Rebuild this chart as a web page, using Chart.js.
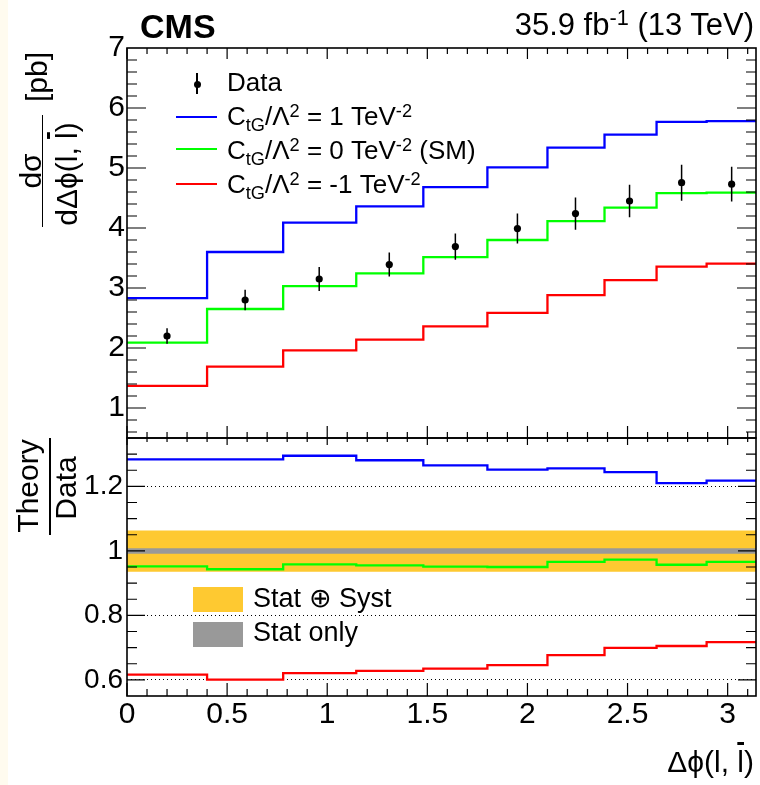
<!DOCTYPE html>
<html>
<head>
<meta charset="utf-8">
<script src="https://cdn.jsdelivr.net/npm/chart.js@4.4.0/dist/chart.umd.min.js"></script>
<style>
body { margin: 0; background: #fff; }
#wrap { position: relative; width: 760px; height: 785px; font-family: "Liberation Sans", Arial, sans-serif; color: #000; overflow: hidden; }
#strip { position: absolute; left: 0; top: 0; width: 8px; height: 785px; background: #fffbef; }
canvas { position: absolute; left: 0; top: 0; }
.t { position: absolute; white-space: nowrap; line-height: 1; z-index: 2; }
.rot { position: absolute; white-space: nowrap; line-height: 1; font-size: 30px; z-index: 2; transform: translate(-50%, -50%) rotate(-90deg); }
.leg { font-size: 26px; }
.sup { font-size: 0.7em; position: relative; top: -0.45em; }
.sub { font-size: 0.7em; position: relative; top: 0.35em; }
.ln { position: absolute; z-index: 2; }
.ov { text-decoration: overline; }
</style>
</head>
<body>
<div id="wrap">
  <div id="strip"></div>
  <canvas id="chart" width="760" height="785"></canvas>

  <div class="t" style="left:140px; top:9px; font-size:34px; font-weight:bold;">CMS</div>
  <div class="t" style="right:6px; top:9px; font-size:31px;">35.9 fb<span class="sup">-1</span> (13 TeV)</div>

  <!-- legend, upper panel -->
  <div class="ln" style="left:196.2px; top:73px; width:1.5px; height:21px; background:#000;"></div>
  <div class="ln" style="left:193.5px; top:80.5px; width:7px; height:7px; border-radius:50%; background:#000;"></div>
  <div class="t leg" style="left:227px; top:69px;">Data</div>
  <div class="ln" style="left:176px; top:116px; width:41px; height:2.3px; background:#0000ff;"></div>
  <div class="t leg" style="left:227px; top:103px;">C<span class="sub">tG</span>/Λ<span class="sup">2</span> = 1 TeV<span class="sup">-2</span></div>
  <div class="ln" style="left:176px; top:148px; width:41px; height:2.3px; background:#00ff00;"></div>
  <div class="t leg" style="left:227px; top:137px;">C<span class="sub">tG</span>/Λ<span class="sup">2</span> = 0 TeV<span class="sup">-2</span> (SM)</div>
  <div class="ln" style="left:176px; top:183px; width:41px; height:2.3px; background:#ff0000;"></div>
  <div class="t leg" style="left:227px; top:171px;">C<span class="sub">tG</span>/Λ<span class="sup">2</span> = -1 TeV<span class="sup">-2</span></div>

  <!-- legend, ratio panel -->
  <div class="ln" style="left:193px; top:587px; width:50px; height:25px; background:#fec931;"></div>
  <div class="t leg" style="left:253px; top:585px; font-size:27px;">Stat ⊕ Syst</div>
  <div class="ln" style="left:193px; top:622px; width:50px; height:25px; background:#999999;"></div>
  <div class="t leg" style="left:253px; top:619px; font-size:27px;">Stat only</div>

  <!-- y title, upper -->
  <div class="rot" style="left:30.5px; top:171px;">dσ</div>
  <div class="ln" style="left:41.8px; top:115px; width:1.5px; height:112px; background:#000;"></div>
  <div class="rot" style="left:66.5px; top:174px;">dΔϕ(l, <span class="ov">l</span>)</div>
  <div class="rot" style="left:37px; top:76.5px;">[pb]</div>

  <!-- y title, ratio -->
  <div class="rot" style="left:28px; top:486px;">Theory</div>
  <div class="ln" style="left:49.3px; top:438px; width:1.5px; height:97px; background:#000;"></div>
  <div class="rot" style="left:66px; top:488px;">Data</div>

  <!-- x title -->
  <div class="t" style="right:6px; top:747px; font-size:30px;">Δϕ(l, <span class="ov">l</span>)</div>
</div>

<script>
// bin edges in delta phi
var binEdges = [0, 0.40, 0.78, 1.145, 1.48, 1.80, 2.10, 2.385, 2.645, 2.895, 3.1416];
var binCenters = [0.20, 0.59, 0.96, 1.31, 1.64, 1.95, 2.24, 2.51, 2.77, 3.02];

// upper panel: d sigma / d delta phi [pb]
var dataXsec = [2.20, 2.80, 3.15, 3.39, 3.69, 3.99, 4.24, 4.45, 4.755, 4.73];
var dataErr  = [0.13, 0.17, 0.20, 0.20, 0.22, 0.25, 0.27, 0.27, 0.30, 0.29];
var xsecPlus  = [2.83, 3.60, 4.09, 4.36, 4.68, 5.01, 5.34, 5.555, 5.77, 5.78];
var xsecSM    = [2.09, 2.65, 3.03, 3.245, 3.515, 3.80, 4.115, 4.34, 4.58, 4.59];
var xsecMinus = [1.37, 1.69, 1.96, 2.14, 2.36, 2.585, 2.88, 3.13, 3.355, 3.405];

// lower panel: theory / data
var ratioPlus  = [1.284, 1.284, 1.295, 1.281, 1.265, 1.252, 1.256, 1.244, 1.210, 1.218];
var ratioSM    = [0.952, 0.943, 0.958, 0.955, 0.951, 0.950, 0.966, 0.973, 0.957, 0.966];
var ratioMinus = [0.616, 0.601, 0.621, 0.628, 0.635, 0.646, 0.677, 0.699, 0.705, 0.717];
var totalUp   = [1.063, 1.063, 1.063, 1.063, 1.063, 1.063, 1.063, 1.063, 1.063, 1.063];
var totalDown = [0.935, 0.935, 0.935, 0.935, 0.935, 0.935, 0.935, 0.935, 0.935, 0.935];
var statUp    = [1.008, 1.008, 1.008, 1.008, 1.008, 1.008, 1.008, 1.008, 1.008, 1.008];
var statDown  = [0.991, 0.991, 0.991, 0.991, 0.991, 0.991, 0.991, 0.991, 0.991, 0.991];

// tick labels
var xTicks = [0, 0.5, 1, 1.5, 2, 2.5, 3];
var xsecTicks = [1, 2, 3, 4, 5, 6, 7];
var ratioTicks = [0.6, 0.8, 1, 1.2];

/* histogram as step points: last value repeated at the last edge */
function stepPoints(vals){
    var pts = [];
    for(var i = 0; i < binEdges.length; i++){
        pts.push({x: binEdges[i], y: vals[Math.min(i, vals.length - 1)]});
    }
    return pts;
}

function stepLine(vals, color, axis){
    return {
        data: stepPoints(vals),
        yAxisID: axis,
        stepped: true,
        borderColor: color,
        borderWidth: 2.3,
        pointRadius: 0,
        fill: false,
        order: 5
    };
}

function band(vals, color, fillTo){
    return {
        data: stepPoints(vals),
        yAxisID: 'yr',
        stepped: true,
        borderWidth: 0,
        borderColor: 'rgba(0,0,0,0)',
        backgroundColor: color,
        pointRadius: 0,
        fill: fillTo,
        order: 10
    };
}

function plainLabel(v){ return String(v); }

/* ROOT style frame with inner ticks + error bars */
var rootFrame = {
    id: 'rootFrame',
    afterDatasetsDraw: function(chart){
        var ctx = chart.ctx;
        var xs = chart.scales.x, ys = chart.scales.y;
        ctx.save();
        ctx.strokeStyle = '#000';
        ctx.lineWidth = 1.5;
        ctx.beginPath();
        for(var i = 0; i < dataXsec.length; i++){
            var px = xs.getPixelForValue(binCenters[i]);
            ctx.moveTo(px, ys.getPixelForValue(dataXsec[i] - dataErr[i]));
            ctx.lineTo(px, ys.getPixelForValue(dataXsec[i] + dataErr[i]));
        }
        ctx.stroke();
        ctx.restore();
    },
    afterDraw: function(chart){
        var ctx = chart.ctx;
        var xs = chart.scales.x, ys = chart.scales.y, yr = chart.scales.yr;
        ctx.save();
        ctx.strokeStyle = '#000';
        ctx.lineWidth = 1.2;
        ctx.beginPath();
        var k, px, py, major;
        for(k = 0; k <= 31; k++){
            px = xs.getPixelForValue(k / 10);
            major = (k % 5 == 0);
            ctx.moveTo(px, ys.top); ctx.lineTo(px, ys.top + (major ? 11 : 6));
            ctx.moveTo(px, ys.bottom); ctx.lineTo(px, ys.bottom - (major ? 12 : 6));
            ctx.moveTo(px, yr.top); ctx.lineTo(px, yr.top + (major ? 7 : 4));
            ctx.moveTo(px, yr.bottom); ctx.lineTo(px, yr.bottom - (major ? 13 : 7));
        }
        for(k = 3; k <= 34; k++){
            py = ys.getPixelForValue(k / 5);
            major = (k % 5 == 0);
            ctx.moveTo(xs.left, py); ctx.lineTo(xs.left + (major ? 19 : 10), py);
            ctx.moveTo(xs.right, py); ctx.lineTo(xs.right - (major ? 19 : 10), py);
        }
        for(k = 12; k <= 26; k++){
            py = yr.getPixelForValue(k / 20);
            major = (k % 4 == 0);
            ctx.moveTo(xs.left, py); ctx.lineTo(xs.left + (major ? 18 : 10), py);
            ctx.moveTo(xs.right, py); ctx.lineTo(xs.right - (major ? 18 : 10), py);
        }
        ctx.stroke();
        ctx.lineWidth = 1.6;
        ctx.strokeRect(xs.left, ys.top, xs.right - xs.left, ys.bottom - ys.top);
        ctx.strokeRect(xs.left, yr.top, xs.right - xs.left, yr.bottom - yr.top);
        ctx.restore();
    }
};

var tickFont = {family: '"Liberation Sans", Arial, sans-serif', size: 30};

var chartCtx = document.getElementById('chart');
var chart = new Chart(chartCtx, {
    type: 'line',
    data: {
        datasets: [
            {
                data: binCenters.map(function(x, i){ return {x: x, y: dataXsec[i]}; }),
                yAxisID: 'y',
                showLine: false,
                pointRadius: 3.6,
                pointBackgroundColor: '#000',
                pointBorderWidth: 0,
                order: 1
            },
            stepLine(xsecPlus, '#0000ff', 'y'),
            stepLine(xsecSM, '#00ff00', 'y'),
            stepLine(xsecMinus, '#ff0000', 'y'),
            stepLine(ratioPlus, '#0000ff', 'yr'),
            stepLine(ratioSM, '#00ff00', 'yr'),
            stepLine(ratioMinus, '#ff0000', 'yr'),
            band(statUp, '#999999', '+1'),
            band(statDown, 'rgba(0,0,0,0)', false),
            band(totalUp, '#fec931', '+1'),
            band(totalDown, 'rgba(0,0,0,0)', false)
        ]
    },
    options: {
        responsive: false,
        animation: false,
        devicePixelRatio: 1,
        layout: {padding: {top: 48, right: 3, left: 0, bottom: 0}},
        plugins: {legend: {display: false}, tooltip: {enabled: false}},
        scales: {
            x: {
                type: 'linear',
                min: 0,
                max: 3.1416,
                grid: {display: false, drawTicks: false},
                border: {display: false},
                afterBuildTicks: function(s){ s.ticks = xTicks.map(function(v){ return {value: v}; }); },
                afterFit: function(s){ s.height = 89; },
                ticks: {font: tickFont, color: '#000', padding: 1, maxRotation: 0, autoSkip: false, callback: plainLabel}
            },
            yr: {
                type: 'linear',
                position: 'left',
                stack: 'panels',
                stackWeight: 258,
                min: 0.55,
                max: 1.35,
                grid: {display: true, drawTicks: false, color: '#000', lineWidth: 1},
                border: {display: false, dash: [1, 3]},
                afterBuildTicks: function(s){ s.ticks = ratioTicks.map(function(v){ return {value: v}; }); },
                afterFit: function(s){ s.width = 127; },
                ticks: {font: {family: tickFont.family, size: 28}, color: '#000', padding: 4, autoSkip: false, callback: plainLabel}
            },
            y: {
                type: 'linear',
                position: 'left',
                stack: 'panels',
                stackWeight: 390,
                min: 0.5,
                max: 7,
                grid: {display: false, drawTicks: false},
                border: {display: false},
                afterBuildTicks: function(s){ s.ticks = xsecTicks.map(function(v){ return {value: v}; }); },
                afterFit: function(s){ s.width = 127; },
                ticks: {font: tickFont, color: '#000', padding: 2, autoSkip: false, callback: plainLabel}
            }
        }
    },
    plugins: [rootFrame]
});
</script>
</body>
</html>
